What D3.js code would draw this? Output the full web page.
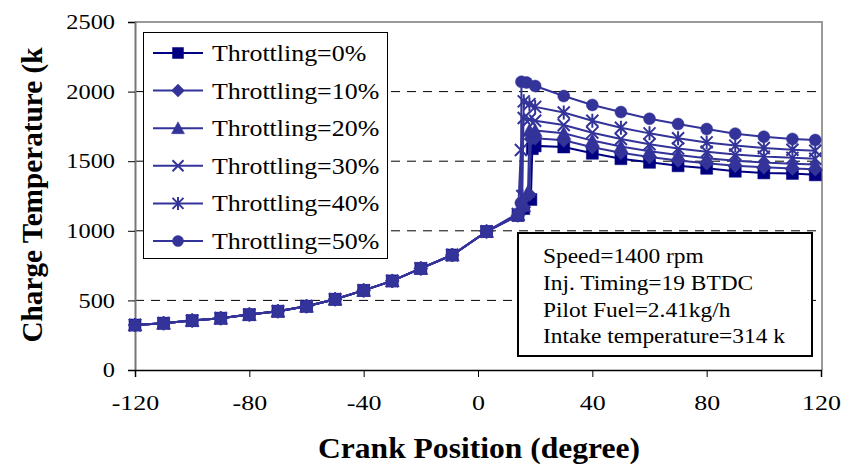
<!DOCTYPE html>
<html>
<head>
<meta charset="utf-8">
<script src="https://cdn.jsdelivr.net/npm/d3@7"></script>
<style>
  body { margin: 0; background: #fff; }
  text { font-family: "Liberation Serif", "Times New Roman", serif; }
</style>
</head>
<body>
<svg id="chart" width="843" height="466"></svg>
<script>
// compression stroke, shared by all curves
var crankEarly = [-120, -110, -100, -90, -80, -70, -60, -50, -40, -30, -20, -9, 3];
var tempEarly = [323, 336, 355, 372, 398, 422, 458, 508, 572, 640, 730, 826, 995];

// around ignition, each curve has its own points
var jumpX0 = [14, 16, 18.5, 19, 20], jumpT0 = [1110, 1160, 1225, 1590, 1610];
var jumpX10 = [14, 16, 18, 18.5, 20], jumpT10 = [1110, 1170, 1260, 1660, 1665];
var jumpX20 = [14, 16, 17.5, 18, 20], jumpT20 = [1115, 1180, 1280, 1720, 1720];
var jumpX30 = [14, 15, 16, 18, 20], jumpT30 = [1120, 1580, 1810, 1800, 1790];
var jumpX40 = [14, 15.5, 16, 18, 20], jumpT40 = [1120, 1250, 1930, 1910, 1890];
var jumpX50 = [14, 15, 15.2, 17, 20], jumpT50 = [1125, 1200, 2070, 2065, 2040];

// expansion stroke
var crankLate = [30, 40, 50, 60, 70, 80, 90, 100, 110, 118];
var late0 = [1602, 1557, 1518, 1492, 1467, 1449, 1428, 1416, 1412, 1402];
var late10 = [1650, 1600, 1560, 1530, 1505, 1485, 1468, 1456, 1448, 1442];
var late20 = [1700, 1648, 1605, 1572, 1545, 1522, 1504, 1490, 1482, 1476];
var late30 = [1760, 1705, 1660, 1622, 1592, 1568, 1548, 1533, 1524, 1518];
var late40 = [1850, 1790, 1740, 1700, 1665, 1635, 1612, 1595, 1582, 1575];
var late50 = [1968, 1904, 1853, 1805, 1767, 1731, 1698, 1676, 1660, 1652];

var seriesNames = ["Throttling=0%", "Throttling=10%", "Throttling=20%", "Throttling=30%", "Throttling=40%", "Throttling=50%"];
var markerTypes = ["square", "diamond", "triangle", "x", "asterisk", "circle"];
var seriesColors = ["#000080", "#333399", "#333399", "#333399", "#333399", "#333399"];

var yTicks = [0, 500, 1000, 1500, 2000, 2500];
var xTicks = [-120, -80, -40, 0, 40, 80, 120];
var gridValues = [500, 1000, 1500, 2000];

var infoLines = ["Speed=1400 rpm", "Inj. Timing=19 BTDC", "Pilot Fuel=2.41kg/h", "Intake temperature=314 k"];

var jumpXs = [jumpX0, jumpX10, jumpX20, jumpX30, jumpX40, jumpX50];
var jumpTs = [jumpT0, jumpT10, jumpT20, jumpT30, jumpT40, jumpT50];
var lates = [late0, late10, late20, late30, late40, late50];

var series = seriesNames.map(function(name, i) {
  var pts = [];
  crankEarly.forEach(function(c, j) { pts.push([c, tempEarly[j]]); });
  jumpXs[i].forEach(function(c, j) { pts.push([c, jumpTs[i][j]]); });
  crankLate.forEach(function(c, j) { pts.push([c, lates[i][j]]); });
  return {name: name, marker: markerTypes[i], color: seriesColors[i], points: pts};
});

var svg = d3.select("#chart");
var plotLeft = 135, plotRight = 821, plotTop = 22, plotBottom = 370;

var x = d3.scaleLinear().domain([-120, 120]).range([plotLeft, plotRight]);
var y = d3.scaleLinear().domain([0, 2500]).range([plotBottom, plotTop]);

// the source picture is a bit wider than tall, so stretch glyphs sideways
function widen(sel, k) {
  sel.each(function() {
    var len = this.getComputedTextLength();
    d3.select(this).attr("textLength", len * k).attr("lengthAdjust", "spacingAndGlyphs");
  });
}

// grid
svg.selectAll(".grid").data(gridValues).enter().append("line")
  .attr("class", "grid")
  .attr("x1", plotLeft).attr("x2", plotRight + 1)
  .attr("y1", function(d) { return y(d); })
  .attr("y2", function(d) { return y(d); })
  .attr("stroke", "#000")
  .attr("stroke-width", 1)
  .attr("stroke-dasharray", "9,7");

// top and right border
svg.append("path")
  .attr("d", "M" + plotLeft + "," + plotTop + "H" + (plotRight + 1) + "V" + plotBottom)
  .attr("fill", "none")
  .attr("stroke", "#999")
  .attr("stroke-width", 2);

// axes
var yAxis = svg.append("g")
  .attr("transform", "translate(" + plotLeft + ",0)")
  .call(d3.axisLeft(y).tickValues(yTicks).tickSize(7).tickPadding(13)
    .tickFormat(function(d) { return String(d); }));
yAxis.select(".domain").attr("stroke", "#777").attr("stroke-width", 2);
yAxis.selectAll(".tick line").attr("stroke", "#000");
yAxis.selectAll("text").attr("font-size", 21).attr("fill", "#000")
  .style("font-family", "Liberation Serif")
  .call(widen, 1.16);

var xAxis = svg.append("g")
  .attr("transform", "translate(0," + plotBottom + ")")
  .call(d3.axisBottom(x).tickValues(xTicks).tickSize(7)
    .tickFormat(function(d) { return String(d); }));
xAxis.select(".domain").attr("stroke", "#000").attr("stroke-width", 1.5);
xAxis.selectAll(".tick line").attr("stroke", "#000");
xAxis.selectAll("text").attr("font-size", 22).attr("fill", "#000")
  .attr("y", 40).attr("dy", null)
  .style("font-family", "Liberation Serif")
  .call(widen, 1.18);

// axis titles
svg.append("text")
  .attr("transform", "translate(42,195) rotate(-90)")
  .attr("text-anchor", "middle")
  .attr("font-size", 29).attr("font-weight", "bold")
  .attr("textLength", 295).attr("lengthAdjust", "spacingAndGlyphs")
  .text("Charge Temperature (k");

svg.append("text")
  .attr("x", 479).attr("y", 458)
  .attr("text-anchor", "middle")
  .attr("font-size", 29).attr("font-weight", "bold")
  .attr("textLength", 322).attr("lengthAdjust", "spacingAndGlyphs")
  .text("Crank Position (degree)");

function markerPath(type, s) {
  var h = s / 2;
  if (type == "square") return "M" + (-h) + "," + (-h) + "h" + s + "v" + s + "h" + (-s) + "Z";
  if (type == "diamond") return "M0," + (-h - 1) + "L" + (h + 1) + ",0L0," + (h + 1) + "L" + (-h - 1) + ",0Z";
  if (type == "triangle") return "M0," + (-h - 1) + "L" + (h + 1) + "," + (h) + "L" + (-h - 1) + "," + (h) + "Z";
  if (type == "x") return "M" + (-h) + "," + (-h) + "L" + h + "," + h + "M" + h + "," + (-h) + "L" + (-h) + "," + h;
  if (type == "asterisk") return "M" + (-h) + "," + (-h) + "L" + h + "," + h + "M" + h + "," + (-h) + "L" + (-h) + "," + h + "M0," + (-h - 1) + "V" + (h + 1);
  // circle
  return "M" + h + ",0A" + h + "," + h + " 0 1,1 " + (-h) + ",0A" + h + "," + h + " 0 1,1 " + h + ",0Z";
}

function drawMarker(g, type, color, px, py, size) {
  var stroked = (type == "x" || type == "asterisk");
  g.append("path")
    .attr("d", markerPath(type, size))
    .attr("transform", "translate(" + px + "," + py + ")")
    .attr("fill", stroked ? "none" : color)
    .attr("stroke", color)
    .attr("stroke-width", stroked ? 2 : 0.5);
}

var line = d3.line()
  .x(function(d) { return x(d[0]); })
  .y(function(d) { return y(d[1]); });

series.forEach(function(s) {
  var g = svg.append("g").attr("class", "series");
  g.append("path")
    .datum(s.points)
    .attr("d", line)
    .attr("fill", "none")
    .attr("stroke", s.color)
    .attr("stroke-width", 2);
  s.points.forEach(function(p) {
    drawMarker(g, s.marker, s.color, x(p[0]), y(p[1]), 12);
  });
});

// legend
var legend = svg.append("g").attr("class", "legend");
legend.append("rect")
  .attr("x", 143.5).attr("y", 32.5)
  .attr("width", 244).attr("height", 226)
  .attr("fill", "#fff").attr("stroke", "#000").attr("stroke-width", 1);

series.forEach(function(s, i) {
  var cy = 53 + i * 37.6;
  legend.append("line")
    .attr("x1", 153).attr("x2", 203)
    .attr("y1", cy).attr("y2", cy)
    .attr("stroke", s.color).attr("stroke-width", 2);
  drawMarker(legend, s.marker, s.color, 178, cy, 11);
  legend.append("text")
    .attr("x", 212).attr("y", cy + 8)
    .attr("font-size", 24)
    .text(s.name)
    .call(widen, 1.08);
});

// info box
var info = svg.append("g").attr("class", "info");
info.append("rect")
  .attr("x", 518).attr("y", 233)
  .attr("width", 294).attr("height", 123)
  .attr("fill", "#fff").attr("stroke", "#000").attr("stroke-width", 2);
info.selectAll("text").data(infoLines).enter().append("text")
  .attr("x", 543)
  .attr("y", function(d, i) { return 263 + i * 26.8; })
  .attr("font-size", 20)
  .text(function(d) { return d; })
  .call(widen, 1.17);
</script>
</body>
</html>
